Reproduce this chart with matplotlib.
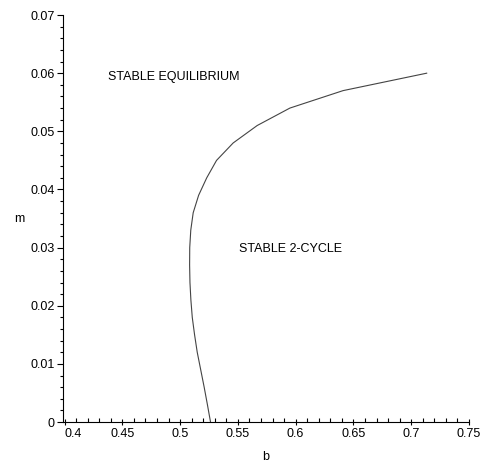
import matplotlib.pyplot as plt
from matplotlib.ticker import MultipleLocator

# boundary between stable equilibrium and stable 2-cycle
m_vals = [0.000, 0.003, 0.006, 0.009, 0.012, 0.015, 0.018, 0.021, 0.024, 0.027, 0.030,
          0.033, 0.036, 0.039, 0.042, 0.045, 0.048, 0.051, 0.054, 0.057, 0.060]
b_vals = [0.5263, 0.5236, 0.5208, 0.5178, 0.5148, 0.5125, 0.5105, 0.5093, 0.5085, 0.5082, 0.5083,
          0.5092, 0.5113, 0.5160, 0.5230, 0.5315, 0.5459, 0.5667, 0.5950, 0.6410, 0.7134]

x_ticks = [0.4, 0.45, 0.5, 0.55, 0.6, 0.65, 0.7, 0.75]
x_labels = ["0.4", "0.45", "0.5", "0.55", "0.6", "0.65", "0.7", "0.75"]
y_ticks = [0, 0.01, 0.02, 0.03, 0.04, 0.05, 0.06, 0.07]
y_labels = ["0", "0.01", "0.02", "0.03", "0.04", "0.05", "0.06", "0.07"]


def main():
    plt.rcParams["font.family"] = ["Liberation Sans", "DejaVu Sans"]
    fs = 9

    fig = plt.figure(figsize=(4.8, 4.7), dpi=100)
    ax = fig.add_axes([0.131, 0.102, 0.846, 0.866])

    ax.plot(b_vals, m_vals, color="#444444", lw=0.8)

    ax.text(0.4945, 0.0594, "STABLE EQUILIBRIUM", ha="center", va="center", fontsize=fs)
    ax.text(0.5954, 0.0297, "STABLE 2-CYCLE", ha="center", va="center", fontsize=fs)

    ax.set_xlim(0.3985, 0.75)
    ax.set_ylim(0, 0.07)

    ax.set_xticks(x_ticks)
    ax.set_xticklabels(x_labels)
    ax.set_yticks(y_ticks)
    ax.set_yticklabels(y_labels)
    ax.xaxis.set_minor_locator(MultipleLocator(0.01))
    ax.yaxis.set_minor_locator(MultipleLocator(0.002))

    ax.tick_params(axis="x", which="major", direction="inout", length=5, width=0.8, labelsize=fs, pad=2)
    ax.tick_params(axis="x", which="minor", direction="in", length=3, width=0.8)
    ax.tick_params(axis="y", which="major", direction="out", length=4, width=0.8, labelsize=fs, pad=2)
    ax.tick_params(axis="y", which="minor", direction="out", length=2.5, width=0.8)

    # first x label sits to the right of its tick, as in the original
    ax.get_xticklabels()[0].set_ha("left")

    for side in ["top", "right"]:
        ax.spines[side].set_visible(False)
    for side in ["left", "bottom"]:
        ax.spines[side].set_linewidth(0.8)

    ax.set_xlabel("b", fontsize=fs, labelpad=8)
    ax.set_ylabel("m", fontsize=fs, rotation=0, labelpad=8, va="center")

    plt.savefig("out.png", dpi=100)


if __name__ == "__main__":
    main()
